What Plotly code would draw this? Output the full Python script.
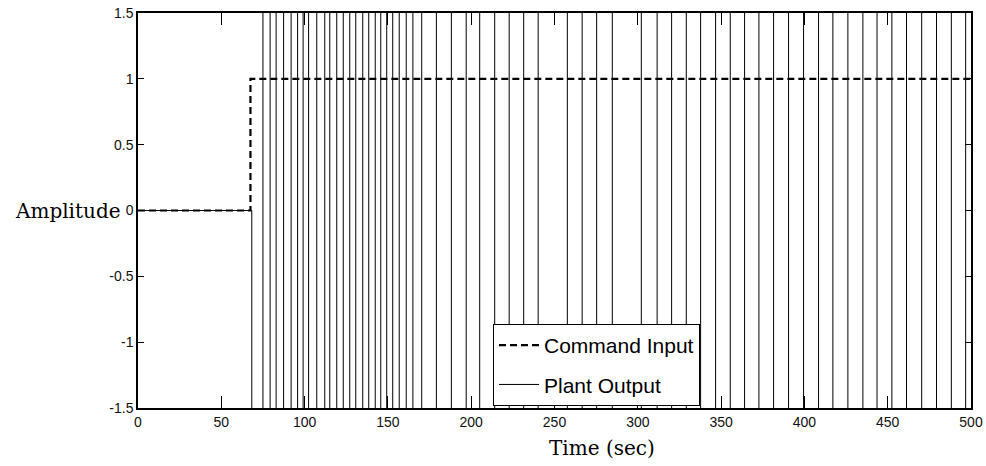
import plotly.graph_objects as go

# Data
cmd_t = [0, 67.5, 67.5, 500]
cmd_y = [0, 0, 1, 1]

# Plant output switching instants (sec); output saturates well beyond the ±1.5 axis range
switch_times = [68.3, 75.0, 79.3, 82.9, 87.4, 91.9, 95.8, 99.1, 102.4, 107.3, 112.1,
                115.1, 119.3, 123.2, 127.1, 130.7, 134.9, 138.5, 142.4, 145.7, 149.3,
                152.9, 156.8, 161.0, 165.0, 170.3, 179.1, 188.1, 197.0, 205.1, 214.1,
                222.8, 231.5, 240.2, 257.7, 266.6, 275.3, 284.7, 302.1, 311.6, 320.3,
                329.1, 337.7, 346.7, 355.5, 364.1, 372.7, 381.5, 390.5, 399.5, 408.5,
                417.1, 426.1, 435.1, 443.6, 452.5, 461.3, 470.4, 479.3, 488.2, 496.8]
swing = 3.0

x_ticks = [0, 50, 100, 150, 200, 250, 300, 350, 400, 450, 500]
y_ticks = [-1.5, -1, -0.5, 0, 0.5, 1, 1.5]
y_tick_text = ["-1.5", "-1", "-0.5", "0", "0.5", "1", "1.5"]

# Build the plant output trace (square wave)
pt = [0, switch_times[0]]
py = [0, 0]
level = -swing
for i, t in enumerate(switch_times):
    pt.append(t)
    py.append(level)
    nxt = switch_times[i + 1] if i + 1 < len(switch_times) else 500
    pt.append(nxt)
    py.append(level)
    level = -level

fig = go.Figure()
fig.add_trace(go.Scatter(x=pt, y=py, mode="lines", name="Plant Output",
                         legendgroup="b", legendrank=2,
                         line=dict(color="black", width=1)))
fig.add_trace(go.Scatter(x=cmd_t, y=cmd_y, mode="lines", name="Command Input",
                         legendgroup="a", legendrank=1,
                         line=dict(color="black", width=2.2, dash="7px,4px")))

axis_common = dict(showgrid=False, zeroline=False, showline=True, linecolor="black",
                   linewidth=1.5, mirror="ticks", ticks="inside", tickcolor="black",
                   automargin=False,
                   tickfont=dict(family="Liberation Sans Narrow, Liberation Sans, Arial", size=14, color="#111"))

fig.update_xaxes(range=[0, 500], tickvals=x_ticks, ticklen=12, tickwidth=1, **axis_common)
fig.update_yaxes(range=[-1.5, 1.5], tickvals=y_ticks, ticktext=y_tick_text, ticklen=6,
                 tickwidth=1, **axis_common)

L, R, T, B = 138, 15, 13, 58
pw = 986 - L - R
ph = 466 - T - B

fig.update_layout(
    width=986, height=466,
    margin=dict(l=L, r=R, t=T, b=B, autoexpand=False),
    paper_bgcolor="white", plot_bgcolor="white",
    showlegend=True,
    legend=dict(x=(493 - L) / pw, y=(466 - B - 406) / ph, xanchor="left", yanchor="bottom",
                bgcolor="white", bordercolor="black", borderwidth=1,
                traceorder="grouped", tracegroupgap=9,
                font=dict(family="Liberation Sans, Arial", size=21, color="black"),
                itemwidth=40),
    annotations=[
        dict(text="Amplitude", x=(13 - L) / pw, y=0, xref="paper", yref="y", xanchor="left",
             yanchor="middle", showarrow=False,
             font=dict(family="DejaVu Serif", size=20, color="black")),
        dict(text="Time (sec)", x=(602 - L) / pw, y=(466 - B - 448) / ph, xref="paper", yref="paper",
             xanchor="center", yanchor="middle", showarrow=False,
             font=dict(family="DejaVu Serif", size=20, color="black")),
    ],
)

fig.write_html("out.html", config={"displayModeBar": False},
               post_script="document.body.style.margin='0';document.body.style.overflow='hidden';")
